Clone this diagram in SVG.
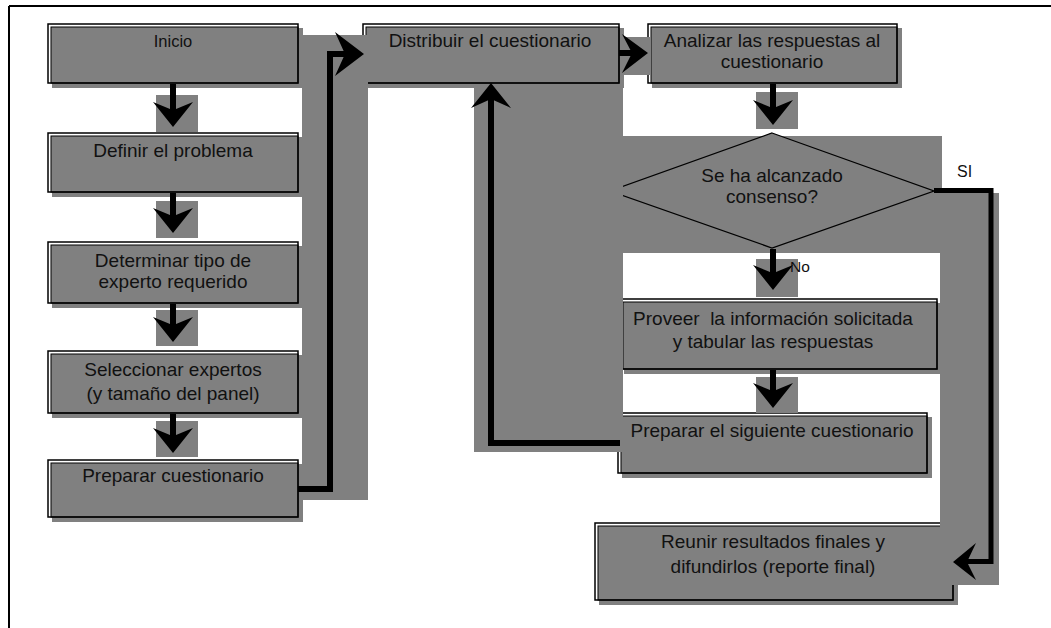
<svg xmlns="http://www.w3.org/2000/svg" width="1051" height="628" viewBox="0 0 1051 628">
<style>
.bg{fill:#ffffff}
.sh{fill:#808080}
.in{fill:#808080;stroke:#000;stroke-width:1}
.out{fill:none;stroke:#000;stroke-width:1.5}
.t{font-family:"Liberation Sans",Arial,sans-serif;font-size:19px;fill:#111;text-anchor:middle;white-space:pre}
.s{font-family:"Liberation Sans",Arial,sans-serif;font-size:16px;fill:#111}
.ln{fill:none;stroke:#000;stroke-width:6;stroke-linejoin:miter}
.hd{fill:#000}
.fr{fill:none;stroke:#000;stroke-width:2}
</style>
<rect class="bg" x="0" y="0" width="1051" height="628"/>
<path class="fr" d="M9,6 H1051 M9,6 V628"/>

<g id="inicio">
<rect class="sh" x="52" y="28" width="251" height="60"/>
<rect class="in" x="51" y="27" width="247" height="56"/>
<rect class="out" x="48" y="24" width="250" height="59"/>
<text class="t" x="173" y="47" style="font-size:16.5px">Inicio</text>
</g>
<g id="definir">
<rect class="sh" x="52" y="137" width="251" height="60"/>
<rect class="in" x="51" y="136" width="247" height="56"/>
<rect class="out" x="48" y="133" width="250" height="59"/>
<text class="t" x="173" y="157">Definir el problema</text>
</g>
<g id="determinar">
<rect class="sh" x="52" y="246" width="251" height="62"/>
<rect class="in" x="51" y="245" width="247" height="58"/>
<rect class="out" x="48" y="242" width="250" height="61"/>
<text class="t" x="173" y="267">Determinar tipo de</text>
<text class="t" x="173" y="288">experto requerido</text>
</g>
<g id="seleccionar">
<rect class="sh" x="52" y="355" width="251" height="63"/>
<rect class="in" x="51" y="354" width="247" height="59"/>
<rect class="out" x="48" y="351" width="250" height="62"/>
<text class="t" x="173" y="376">Seleccionar expertos</text>
<text class="t" x="173" y="400">(y tamaño del panel)</text>
</g>
<g id="preparar">
<rect class="sh" x="52" y="464" width="251" height="58"/>
<rect class="in" x="51" y="463" width="247" height="54"/>
<rect class="out" x="48" y="460" width="250" height="57"/>
<text class="t" x="173" y="482">Preparar cuestionario</text>
</g>
<g id="distribuir">
<rect class="sh" x="367" y="28" width="257" height="60"/>
<rect class="in" x="366" y="27" width="253" height="56"/>
<rect class="out" x="363" y="24" width="256" height="59"/>
<text class="t" x="490" y="47">Distribuir el cuestionario</text>
</g>
<g id="analizar">
<rect class="sh" x="652" y="28" width="250" height="60"/>
<rect class="in" x="651" y="27" width="246" height="56"/>
<rect class="out" x="648" y="24" width="249" height="59"/>
<text class="t" x="772" y="47">Analizar las respuestas al</text>
<text class="t" x="772" y="68">cuestionario</text>
</g>
<g id="consenso">
<rect class="sh" x="612" y="136" width="330" height="117"/>
<polygon points="772,133 934,191 772,248 610,191" fill="#808080" stroke="#000" stroke-width="1.3"/>
<text class="t" x="772" y="182">Se ha alcanzado</text>
<text class="t" x="772" y="203">consenso?</text>
</g>
<g id="proveer">
<rect class="sh" x="624" y="303" width="318" height="71"/>
<rect class="in" x="623" y="302" width="314" height="67"/>
<rect class="out" x="620" y="299" width="317" height="70"/>
<text class="t" x="773" y="325">Proveer  la información solicitada</text>
<text class="t" x="773" y="348">y tabular las respuestas</text>
</g>
<g id="siguiente">
<rect class="sh" x="622" y="417" width="310" height="61"/>
<rect class="in" x="621" y="416" width="306" height="57"/>
<rect class="out" x="618" y="413" width="309" height="60"/>
<text class="t" x="772" y="437">Preparar el siguiente cuestionario</text>
</g>
<g id="reunir">
<rect class="sh" x="599" y="527" width="359" height="78"/>
<rect class="in" x="598" y="526" width="355" height="74"/>
<rect class="out" x="595" y="523" width="358" height="77"/>
<text class="t" x="773" y="548">Reunir resultados finales y</text>
<text class="t" x="773" y="573">difundirlos (reporte final)</text>
</g>

<g id="connectors">
<!-- down arrows left column -->
<rect class="sh" x="156" y="95" width="42" height="37"/>
<polygon class="hd" points="170,84 170,109 153,102 173,127 193,102 176,109 176,84"/>
<rect class="sh" x="156" y="201" width="42" height="37"/>
<polygon class="hd" points="170,193 170,215 153,208 173,233 193,208 176,215 176,193"/>
<rect class="sh" x="156" y="310" width="42" height="36"/>
<polygon class="hd" points="170,304 170,324 153,317 173,342 193,317 176,324 176,304"/>
<rect class="sh" x="156" y="421" width="42" height="36"/>
<polygon class="hd" points="170,414 170,435 153,428 173,453 193,428 176,435 176,414"/>
<!-- down arrows right column -->
<rect class="sh" x="756" y="92" width="42" height="37"/>
<polygon class="hd" points="770,84 770,107 753,100 773,125 793,100 776,107 776,84"/>
<rect class="sh" x="756" y="259" width="42" height="38"/>
<text class="s" x="790" y="272" style="font-size:15.5px">No</text>
<polygon class="hd" points="770,249 770,272 753,265 773,290 793,265 776,272 776,249"/>
<rect class="sh" x="756" y="377" width="42" height="36"/>
<polygon class="hd" points="770,370 770,390 753,383 773,408 793,383 776,390 776,370"/>
<!-- Preparar cuestionario to Distribuir -->
<rect class="sh" x="302" y="35" width="66" height="465"/>
<path class="ln" d="M298,489 H330 V54 H346"/>
<polygon class="hd" points="364,54 335,32 345,54 335,76"/>
<!-- Distribuir to Analizar -->
<rect class="sh" x="620" y="37" width="30" height="38"/>
<path class="ln" d="M619,53 H633"/>
<polygon class="hd" points="648,53 622,34 632,53 622,73"/>
<!-- loop back to Distribuir -->
<rect class="sh" x="474" y="85" width="149" height="367"/>
<path class="ln" d="M620,443 H491 V99"/>
<polygon class="hd" points="491,83 511,108 491,99 471,108"/>
<!-- SI to Reunir -->
<rect class="sh" x="940" y="193" width="59" height="392"/>
<text class="s" x="957" y="177">SI</text>
<path class="ln" style="stroke-width:5" d="M934,190.5 H991 V561.5 H967"/>
<polygon class="hd" points="953,562 976,543 967,562 976,580"/>
</g>
</svg>
